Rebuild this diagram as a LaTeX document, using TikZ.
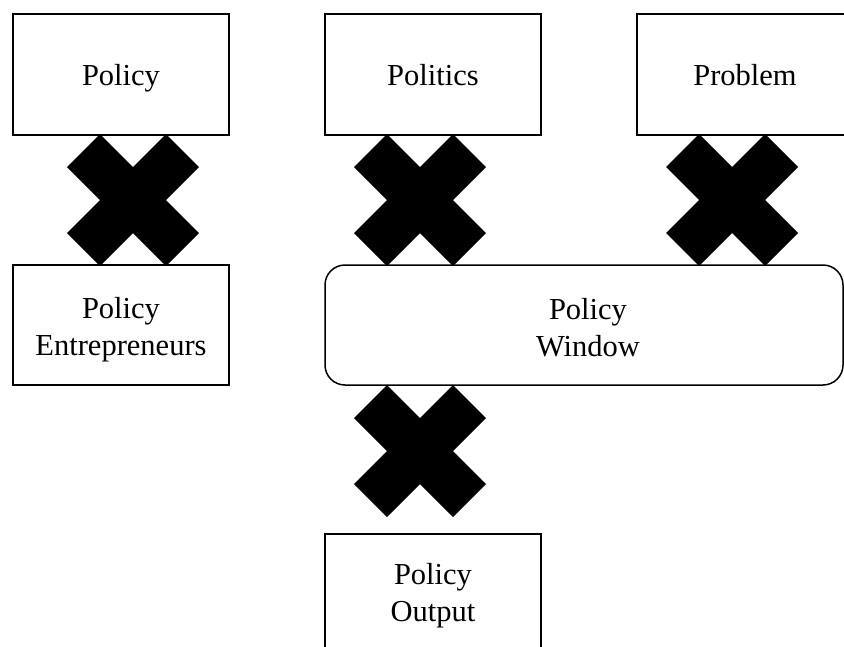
\documentclass[tikz,border=0pt]{standalone}
\usepackage{fontspec}
\setmainfont{Liberation Serif}
\begin{document}
\begin{tikzpicture}[x=1pt,y=-1pt,
  box/.style={draw,line width=1.5pt,minimum width=216pt,minimum height=121pt,
    inner sep=0pt,align=center,font=\fontsize{30.5}{37}\selectfont},
  one/.style={text height=22pt,text depth=0pt},
  txt/.style={inner sep=0pt,align=center,font=\fontsize{30.5}{37}\selectfont},
  xmark/.pic={\fill[black] (0,-33) -- (33,-66) -- (66,-33) -- (33,0) -- (66,33) -- (33,66)
     -- (0,33) -- (-33,66) -- (-66,33) -- (-33,0) -- (-66,-33) -- (-33,-66) -- cycle;}]
\useasboundingbox (0,0) rectangle (844,646);
\clip (0,0) rectangle (844,646);
\node[box,one] (policy) at (121,74.5) {Policy};
\node[box,one] (politics) at (433,74.5) {Politics};
\node[box,one] (problem) at (745,74.5) {Problem};
\node[box,minimum height=120pt] (pe) at (121,325) {};
\node[txt] (petext) at ([yshift=-4.5pt]pe.center) {Policy\\Entrepreneurs};
\node[box,minimum width=518pt,minimum height=120pt,rounded corners=20pt] (window) at (584,325) {};
\node[txt] (wtext) at ([xshift=4pt,yshift=-3pt]window.center) {Policy\\Window};
\node[box] (output) at (433,594.5) {};
\node[txt] (otext) at ([yshift=-1pt]output.center) {Policy\\Output};
\pic (x1) at (133,200) {xmark};
\pic (x2) at (420,200) {xmark};
\pic (x3) at (732,200) {xmark};
\pic (x4) at (420,451) {xmark};
\end{tikzpicture}
\end{document}
